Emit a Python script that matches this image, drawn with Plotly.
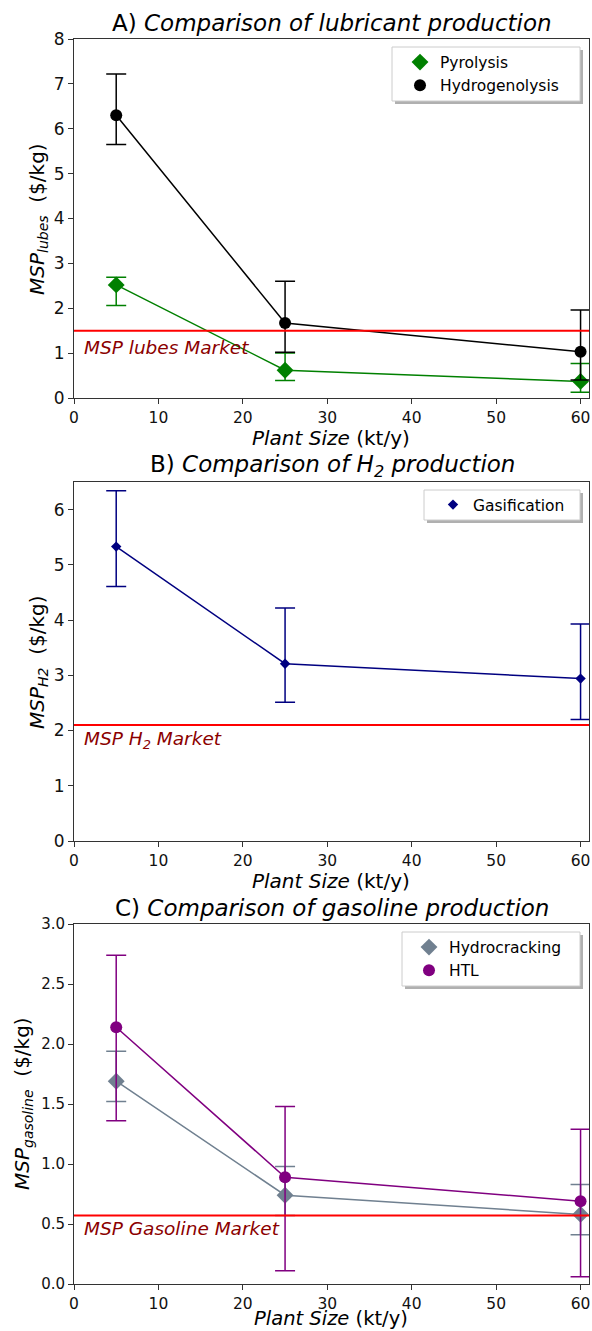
import plotly.graph_objects as go

# ---------------- data ----------------
plant_size = [5, 25, 60]

# Panel A: lubricants
pyro_msp = [2.52, 0.62, 0.37]
pyro_hi = [2.69, 1.00, 0.77]
pyro_lo = [2.06, 0.39, 0.13]
hydrog_msp = [6.30, 1.67, 1.03]
hydrog_hi = [7.22, 2.60, 1.96]
hydrog_lo = [5.65, 1.02, 0.40]
lubes_market = 1.5

# Panel B: hydrogen
gasif_msp = [5.33, 3.21, 2.94]
gasif_hi = [6.34, 4.22, 3.93]
gasif_lo = [4.61, 2.51, 2.20]
h2_market = 2.1

# Panel C: gasoline
hcrack_msp = [1.69, 0.74, 0.58]
hcrack_hi = [1.94, 0.98, 0.83]
hcrack_lo = [1.52, 0.57, 0.41]
htl_msp = [2.14, 0.89, 0.69]
htl_hi = [2.74, 1.48, 1.29]
htl_lo = [1.36, 0.11, 0.06]
gasoline_market = 0.57

x_ticks = [0, 10, 20, 30, 40, 50, 60]
yA_ticks = [0, 1, 2, 3, 4, 5, 6, 7, 8]
yB_ticks = [0, 1, 2, 3, 4, 5, 6]
yC_ticks = [0.0, 0.5, 1.0, 1.5, 2.0, 2.5, 3.0]

# ---------------- layout geometry ----------------
W, H = 592, 1331
ML, MR, MT, MB = 74, 3, 39, 47
PW, PH = W - ML - MR, H - MT - MB


def py(p):  # pixel y -> paper y
    return 1 - (p - MT) / PH


def px(p):  # pixel x -> paper x
    return (p - ML) / PW


FONT = "DejaVu Sans"
fig = go.Figure()


def add_series(xa, ya, y, hi, lo, color, symbol, size, name, legend):
    fig.add_trace(go.Scatter(
        x=plant_size, y=y, mode="lines+markers", xaxis=xa, yaxis=ya,
        line=dict(color=color, width=1.5),
        marker=dict(color=color, symbol=symbol, size=size, line=dict(width=0)),
        error_y=dict(type="data", symmetric=False,
                     array=[h - v for h, v in zip(hi, y)],
                     arrayminus=[v - l for v, l in zip(y, lo)],
                     color=color, thickness=1.5, width=10),
        cliponaxis=False, showlegend=False))
    fig.add_trace(go.Scatter(
        x=[None], y=[None], mode="markers", xaxis=xa, yaxis=ya, name=name,
        marker=dict(color=color, symbol=symbol, size=size, line=dict(width=0)),
        legend=legend, showlegend=True))


add_series("x", "y", pyro_msp, pyro_hi, pyro_lo, "#008000", "diamond", 13, "Pyrolysis", "legend")
add_series("x", "y", hydrog_msp, hydrog_hi, hydrog_lo, "#000000", "circle", 12, "Hydrogenolysis", "legend")
add_series("x2", "y2", gasif_msp, gasif_hi, gasif_lo, "#000080", "diamond", 8, "Gasification", "legend2")
add_series("x3", "y3", hcrack_msp, hcrack_hi, hcrack_lo, "#708090", "diamond", 13, "Hydrocracking", "legend3")
add_series("x3", "y3", htl_msp, htl_hi, htl_lo, "#800080", "circle", 12, "HTL", "legend3")

panels = [
    # (axis suffix, top px, bottom px, yrange, yticks, tickfmt, tickfont size)
    ("", 39, 398, [0, 8], yA_ticks, None, 17),
    ("2", 482, 841, [0, 6.5], yB_ticks, None, 17),
    ("3", 924, 1284, [0, 3.0], yC_ticks, ".1f", 15),
]

axis_common = dict(showline=True, linecolor="#333333", linewidth=1, mirror=True,
                   ticks="outside", ticklen=5, tickcolor="#333333", tickwidth=1,
                   showgrid=False, zeroline=False, automargin=False)

for suf, top, bot, yr, yt, fmt, fs in panels:
    fig.layout["xaxis" + suf] = dict(
        domain=[0, 1], anchor="y" + suf, range=[0, 61], tickvals=x_ticks,
        tickfont=dict(family=FONT, size=15.5, color="#111"), **axis_common)
    fig.layout["yaxis" + suf] = dict(
        domain=[py(bot), py(top)], anchor="x" + suf, range=yr, tickvals=yt,
        tickformat=fmt, tickfont=dict(family=FONT, size=fs, color="#111"), **axis_common)

# market lines
for suf, val in [("", lubes_market), ("2", h2_market), ("3", gasoline_market)]:
    fig.add_shape(type="line", xref="x" + suf + " domain", yref="y" + suf,
                  x0=0, x1=1, y0=val, y1=val, line=dict(color="#ff0000", width=2))

anns = []
# market labels
for suf, yv, txt in [("", 1.12, "MSP lubes Market"),
                     ("2", 1.83, "MSP H<sub>2</sub> Market"),
                     ("3", 0.46, "MSP Gasoline Market")]:
    anns.append(dict(xref="x" + suf, yref="y" + suf, x=1.0, y=yv, text="<i>" + txt + "</i>",
                     showarrow=False, xanchor="left", yanchor="middle",
                     font=dict(family=FONT, size=18.5, color="#8b0000")))

# titles
for ypix, txt in [(23, "A) <i>Comparison of lubricant production</i>"),
                  (466, "B) <i>Comparison of H<sub>2</sub> production</i>"),
                  (908, "C) <i>Comparison of gasoline production</i>")]:
    anns.append(dict(xref="paper", yref="paper", x=px(332), y=py(ypix), text=txt,
                     showarrow=False, xanchor="center", yanchor="middle",
                     font=dict(family=FONT, size=23, color="#000")))

# x labels
for ypix, fsz in [(438, 20), (881, 20), (1318.5, 19.5)]:
    anns.append(dict(xref="paper", yref="paper", x=px(331), y=py(ypix),
                     text="<i>Plant Size</i> (kt/y)", showarrow=False,
                     xanchor="center", yanchor="middle",
                     font=dict(family=FONT, size=fsz, color="#000")))

# y labels
for xpix, ypix, txt in [(38, 219, "<i>MSP<sub>lubes</sub></i>  ($/kg)"),
                        (38, 662, "<i>MSP<sub>H2</sub></i>  ($/kg)"),
                        (23, 1104, "<i>MSP<sub>gasoline</sub></i>  ($/kg)")]:
    anns.append(dict(xref="paper", yref="paper", x=px(xpix), y=py(ypix), text=txt,
                     textangle=-90, showarrow=False, xanchor="center", yanchor="middle",
                     font=dict(family=FONT, size=20, color="#000")))

# legend frames (shadow + box)
for x0, y0, x1, y1 in [(392, 47, 580, 101), (424, 490, 580, 520), (402, 932, 580, 986)]:
    fig.add_shape(type="rect", xref="paper", yref="paper",
                  x0=px(x0 + 3), x1=px(x1 + 3), y0=py(y1 + 3), y1=py(y0 + 3),
                  fillcolor="#b0b0b0", line=dict(width=0), layer="above")
    fig.add_shape(type="rect", xref="paper", yref="paper",
                  x0=px(x0), x1=px(x1), y0=py(y1), y1=py(y0),
                  fillcolor="white", line=dict(color="#cccccc", width=1), layer="above")

leg_common = dict(bgcolor="rgba(0,0,0,0)", borderwidth=0,
                  xanchor="left", yanchor="middle", font=dict(family=FONT, size=15.5, color="#000"),
                  itemclick=False, tracegroupgap=0)
fig.update_layout(
    template="none",
    width=W, height=H, margin=dict(l=ML, r=MR, t=MT, b=MB),
    plot_bgcolor="white", paper_bgcolor="white",
    annotations=anns,
    legend=dict(x=px(400), y=py(74), **leg_common),
    legend2=dict(x=px(433), y=py(505), **leg_common),
    legend3=dict(x=px(409), y=py(959), **leg_common),
)

fig.write_html("out.html", config={"displayModeBar": False},
               post_script="document.body.style.margin='0';document.body.style.overflow='hidden';")
